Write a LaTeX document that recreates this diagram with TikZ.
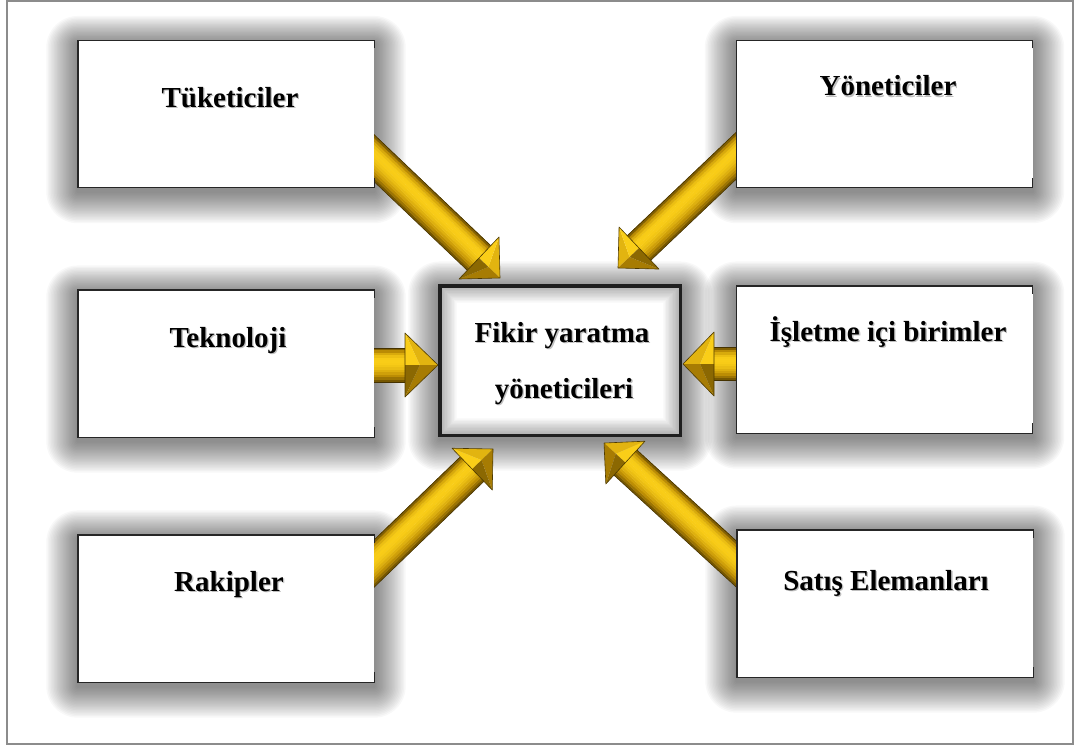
\documentclass[tikz,border=0pt]{standalone}
\usepackage{fontspec}
\setmainfont{Liberation Serif}
\usetikzlibrary{calc}

\definecolor{goldD}{RGB}{98,72,0}
\definecolor{goldM}{RGB}{190,142,4}
\definecolor{goldB}{RGB}{250,206,24}
\definecolor{frameGray}{RGB}{140,140,140}

\pgfdeclarelayer{shadow}
\pgfdeclarelayer{arrows}
\pgfsetlayers{shadow,arrows,main}

\tikzset{
  card/.style={rectangle, fill=white, draw=none, inner sep=0pt,
    minimum width=296pt, minimum height=147pt},
  hubbox/.style={rectangle, fill=white, draw=none, inner sep=0pt,
    minimum width=240pt, minimum height=149pt},
  cardline/.style={draw=black!85, line width=1.4pt},
  hubline/.style={draw=black!88, line width=3.4pt},
  cardtext/.style={font=\fontsize{29}{35}\selectfont\bfseries, inner sep=0pt, anchor=base},
  outerframe/.style={draw=frameGray, line width=1.5pt},
}

% soft glow under a box
\newcommand\glow[1]{%
  \foreach \e in {1.5,3,...,31.5}{%
    \fill[black, opacity=0.028, rounded corners=\e pt]
      ($(#1.north west)+({-\e*1pt},{\e*0.9pt-4pt})$) rectangle
      ($(#1.south east)+({\e*1pt},{-\e*1pt-4pt})$);
  }}

% text with a faint drop shadow
\newcommand\cardlabel[3]{%
  \node[cardtext, text=black!25, xshift=1.3pt, yshift=-1.6pt] at #2 {#3};
  \node[cardtext] (#1) at #2 {#3};}

% bevelled gold block arrow: from, to, head length, head half width, shaft half width
\newcommand\goldarrow[5]{%
  \pgfpointdiff{\pgfpointanchor{#1}{center}}{\pgfpointanchor{#2}{center}}%
  \pgfgetlastxy{\gdx}{\gdy}%
  \pgfmathsetmacro\garrang{atan2(\gdy,\gdx)}%
  \pgfmathsetmacro\garrlen{veclen(\gdx,\gdy)}%
  \pgfmathsetmacro\gbase{\garrlen-#3}%
  \pgfmathsetmacro\ginner{\gbase+0.45*#3}%
  \pgfmathsetmacro\gflip{cos(\garrang)<-0.01 ? -1 : 1}%
  \begin{scope}[shift={(#1)}, rotate=\garrang, yscale=\gflip]
    \foreach \i in {0,...,13}{%
      \pgfmathsetmacro\ya{-#5+\i*2*#5/14}%
      \pgfmathsetmacro\yb{\ya+2*#5/14+0.3}%
      \pgfmathsetmacro\strT{(\i+0.5)/14}%
      \pgfmathsetmacro\strS{\strT<0.62 ? (0.62-\strT)/0.62 : (\strT-0.62)/0.38}%
      \pgfmathtruncatemacro\pc{200*(1-\strS*\strS)}%
      \ifnum\pc>100
        \pgfmathtruncatemacro\pq{\pc-100}\colorlet{stripe}{goldB!\pq!goldM}%
      \else
        \colorlet{stripe}{goldM!\pc!goldD}%
      \fi
      \fill[stripe] (0pt,\ya pt) rectangle (\gbase pt+1pt,\yb pt);
    }
    \draw[goldD!70!black, line width=0.6pt] (0pt,#5 pt) -- (\gbase pt,#5 pt)
      (0pt,-#5 pt) -- (\gbase pt,-#5 pt);
    % head facets
    \fill[goldB!60!goldM] (\garrlen pt,0pt) -- (\gbase pt,#4 pt) -- (\ginner pt,0pt) -- cycle;
    \fill[goldM!75!goldD] (\garrlen pt,0pt) -- (\gbase pt,-#4 pt) -- (\ginner pt,0pt) -- cycle;
    \fill[goldB] (\gbase pt,#4 pt) -- (\gbase pt,0pt) -- (\ginner pt,0pt) -- cycle;
    \fill[goldM!45!goldD] (\gbase pt,-#4 pt) -- (\gbase pt,0pt) -- (\ginner pt,0pt) -- cycle;
    \draw[goldD!80!black, line width=0.6pt, line join=round]
      (\garrlen pt,0pt) -- (\gbase pt,#4 pt) -- (\gbase pt,-#4 pt) -- cycle;
  \end{scope}}

\begin{document}
\begin{tikzpicture}[x=1pt, y=-1pt]
\useasboundingbox (0,0) rectangle (1075,749);

% outer frame
\draw[outerframe] (7,1) rectangle (1073,744);

% boxes
\node[card] (tuk) at (226,114) {};
\node[card] (yon) at (884.5,114) {};
\node[card] (tek) at (226,363.5) {};
\node[card] (isl) at (884.5,359.5) {};
\node[card] (rak) at (226,608.5) {};
\node[card] (sat) at (885,603.5) {};
\node[hubbox] (hub) at (560,360.5) {};

% box outlines (right side only shows short corner ticks)
\foreach \n in {tuk,yon,tek,isl,rak,sat}{%
  \draw[cardline] ($(\n.north east)+(0pt,-8pt)$) -- (\n.north east) -- (\n.north west)
    -- (\n.south west) -- (\n.south east) -- ++(0pt,10pt);
}

% inner shading of the central box
\foreach \e in {1,...,12}{%
  \fill[black, opacity=0.028, even odd rule]
    (hub.north west) rectangle (hub.south east)
    ($(hub.north west)+({\e*1.4pt},{-\e*1.4pt})$) rectangle ($(hub.south east)+({-\e*1.4pt},{\e*1.4pt})$);
}
\draw[hubline] (hub.north west) rectangle (hub.south east);

% labels
\cardlabel{ltuk}{(230,107)}{Tüketiciler}
\cardlabel{lyon}{(888,96)}{Yöneticiler}
\cardlabel{ltek}{(228,347)}{Teknoloji}
\cardlabel{lisl}{(888,341)}{İşletme içi birimler}
\cardlabel{lrak}{(229,591)}{Rakipler}
\cardlabel{lsat}{(886,590)}{Satış Elemanları}
\cardlabel{lhub1}{(562,342)}{Fikir yaratma}
\cardlabel{lhub2}{(564,398)}{yöneticileri}

% arrow end points
\coordinate (a1s) at (355,140);  \coordinate (a1e) at (500,278);
\coordinate (a2s) at (757,136);  \coordinate (a2e) at (618,268);
\coordinate (a3s) at (355,365);  \coordinate (a3e) at (438,365);
\coordinate (a4s) at (757,364);  \coordinate (a4e) at (683,364);
\coordinate (a5s) at (354,583);  \coordinate (a5e) at (493,449);
\coordinate (a6s) at (757,583);  \coordinate (a6e) at (604,443);

\begin{pgfonlayer}{shadow}
  \foreach \n in {tuk,yon,tek,isl,rak,sat,hub}{\glow{\n}}
\end{pgfonlayer}

\begin{pgfonlayer}{arrows}
  \goldarrow{a1s}{a1e}{29}{29}{17}
  \goldarrow{a2s}{a2e}{29}{29}{17}
  \goldarrow{a3s}{a3e}{33}{32}{17}
  \goldarrow{a4s}{a4e}{31}{32}{16.5}
  \goldarrow{a5s}{a5e}{29}{29}{17}
  \goldarrow{a6s}{a6e}{29}{29}{17}
\end{pgfonlayer}
\end{tikzpicture}
\end{document}
